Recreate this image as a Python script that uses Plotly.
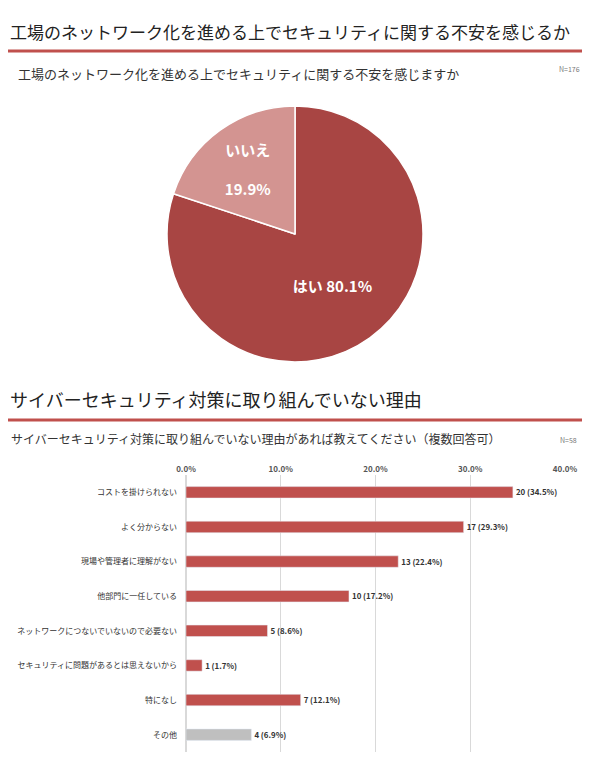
import plotly.graph_objects as go

pie_labels = ["はい", "いいえ"]
pie_values = [80.1, 19.9]
pie_text = ["<b>はい 80.1%</b>", "<b>いいえ<br><br>19.9%</b>"]

categories = ["コストを掛けられない", "よく分からない", "現場や管理者に理解がない", "他部門に一任している",
              "ネットワークにつないでいないので必要ない", "セキュリティに問題があるとは思えないから", "特になし", "その他"]
counts = [20, 17, 13, 10, 5, 1, 7, 4]
pcts = [34.5, 29.3, 22.4, 17.2, 8.6, 1.7, 12.1, 6.9]
xticks = [0, 10, 20, 30, 40]

OX, OY = 9, 7
W, H = 580, 752
def px(sx): return (sx - OX) / W
def py(sy): return 1 - (sy - OY) / H

fig = go.Figure()
fig.add_trace(go.Pie(labels=pie_labels, values=pie_values, text=pie_text, textinfo="text",
                     sort=False, direction="clockwise", rotation=0, showlegend=False,
                     marker=dict(colors=["#a84543", "#d39491"], line=dict(color="white", width=1.5)),
                     textfont=dict(color="white", size=15, family="Noto Sans CJK JP"),
                     insidetextorientation="horizontal",
                     domain=dict(x=[px(168), px(424)], y=[py(361), py(105)]), hoverinfo="skip"))
colors = ["#c0504d"] * 7 + ["#bfbfbf"]
fig.add_trace(go.Bar(y=categories, x=pcts, orientation="h", marker_color=colors, width=0.33,
                     text=[f"<b>{c} ({p}%)</b>" for c, p in zip(counts, pcts)], textposition="outside",
                     textfont=dict(size=9, color="#333", family="Noto Sans CJK JP"),
                     cliponaxis=False, showlegend=False, xaxis="x", yaxis="y"))
fig.update_layout(
    width=W, height=H, margin=dict(l=0, r=0, t=0, b=0), plot_bgcolor="white", paper_bgcolor="white",
    font=dict(family="Noto Sans CJK JP", color="#333"),
    xaxis=dict(domain=[px(187), px(566)], range=[0, 40], side="top", tickvals=xticks, automargin=False,
               ticktext=[f"<b>{v:.1f}%</b>" for v in xticks], tickfont=dict(size=8, color="#555"),
               showgrid=True, gridcolor="#d9d9d9", zeroline=True, zerolinecolor="#d9d9d9", ticks=""),
    yaxis=dict(domain=[py(751), py(474)], autorange="reversed", tickfont=dict(size=8, color="#333"),
               ticks="", ticklabelstandoff=8, automargin=False),
    shapes=[dict(type="line", xref="paper", yref="paper", x0=0, x1=1, y0=py(50), y1=py(50),
                 line=dict(color="#c0504d", width=3)),
            dict(type="line", xref="paper", yref="paper", x0=0, x1=1, y0=py(419), y1=py(419),
                 line=dict(color="#c0504d", width=3))],
    annotations=[
        dict(text="工場のネットワーク化を進める上でセキュリティに関する不安を感じるか", x=0, y=py(30), xref="paper", yref="paper",
             xanchor="left", yanchor="middle", showarrow=False, font=dict(size=17, color="#222")),
        dict(text="工場のネットワーク化を進める上でセキュリティに関する不安を感じますか", x=px(17), y=py(73), xref="paper", yref="paper",
             xanchor="left", yanchor="middle", showarrow=False, font=dict(size=13, color="#333")),
        dict(text="N=176", x=px(583), y=py(68), xref="paper", yref="paper",
             xanchor="right", yanchor="middle", showarrow=False, font=dict(size=7, color="#777")),
        dict(text="サイバーセキュリティ対策に取り組んでいない理由", x=0, y=py(398), xref="paper", yref="paper",
             xanchor="left", yanchor="middle", showarrow=False, font=dict(size=18, color="#222")),
        dict(text="サイバーセキュリティ対策に取り組んでいない理由があれば教えてください（複数回答可）", x=px(10), y=py(438), xref="paper", yref="paper",
             xanchor="left", yanchor="middle", showarrow=False, font=dict(size=12, color="#333")),
        dict(text="N=58", x=px(580), y=py(439), xref="paper", yref="paper",
             xanchor="right", yanchor="middle", showarrow=False, font=dict(size=7, color="#777")),
    ],
)
fig.write_html("out.html")
